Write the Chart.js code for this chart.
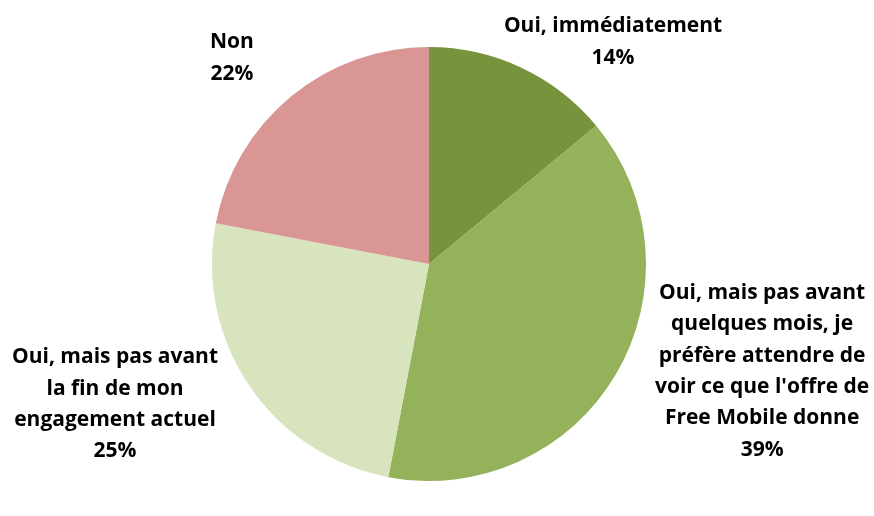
<!DOCTYPE html>
<html lang="fr">
<head>
    <meta charset="UTF-8">
    <title>Free Mobile</title>
    <script src="https://cdn.jsdelivr.net/npm/chart.js"></script>
    <style>
        body {
            margin: 0;
            padding: 0;
            background-color: #fff;
        }
        .chart-container {
            width: 874px;
            height: 516px;
            position: relative;
        }
    </style>
</head>
<body>
    <div class="chart-container">
        <canvas id="pieChart"></canvas>
    </div>

    <script>
        var labels = [
            ['Oui, immédiatement'],
            ['Oui, mais pas avant', 'quelques mois, je', 'préfère attendre de', "voir ce que l'offre de", 'Free Mobile donne'],
            ['Oui, mais pas avant', 'la fin de mon', 'engagement actuel'],
            ['Non']
        ];
        var values = [14, 39, 25, 22];
        var colors = ['#77933C', '#93B25A', '#D7E4BD', '#D99694'];

        // label block centres, relative to pie centre, in units of radius
        var labelPos = [[0.848, -1.023], [1.535, 0.495], [-1.447, 0.647], [-0.908, -0.949]];

        var pieLabels = {
            id: 'pieLabels',
            afterDraw: function (chart) {
                var ctx = chart.ctx;
                var arc = chart.getDatasetMeta(0).data[0];
                var cx = arc.x, cy = arc.y, r = arc.outerRadius;
                var lh = 31.4;
                ctx.save();
                ctx.font = 'bold 21px "Open Sans", sans-serif';
                ctx.fillStyle = '#000';
                ctx.textAlign = 'center';
                ctx.textBaseline = 'middle';
                labels.forEach(function (lines, i) {
                    var all = lines.concat([values[i] + '%']);
                    var x = cx + labelPos[i][0] * r;
                    var y0 = cy + labelPos[i][1] * r - (all.length - 1) * lh / 2;
                    all.forEach(function (t, j) {
                        ctx.fillText(t, x, y0 + j * lh);
                    });
                });
                ctx.restore();
            }
        };

        var ctx = document.getElementById('pieChart').getContext('2d');
        var pieChart = new Chart(ctx, {
            type: 'pie',
            data: {
                labels: labels.map(function (l) { return l.join(' '); }),
                datasets: [{
                    data: values,
                    backgroundColor: colors,
                    borderWidth: 0
                }]
            },
            options: {
                responsive: true,
                maintainAspectRatio: false,
                animation: false,
                layout: {
                    padding: { top: 47, bottom: 35, left: 0, right: 16 }
                },
                plugins: {
                    legend: { display: false },
                    tooltip: { enabled: false }
                }
            },
            plugins: [pieLabels]
        });
    </script>
</body>
</html>
